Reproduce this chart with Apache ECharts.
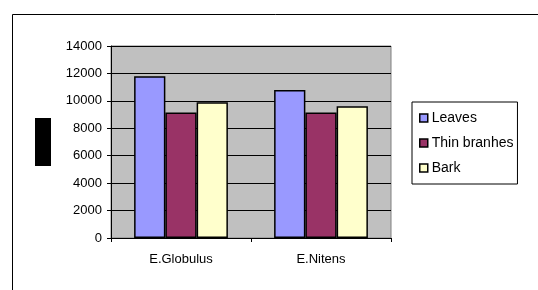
<!DOCTYPE html>
<html>
<head>
<meta charset="utf-8">
<title></title>
<script src="https://cdn.jsdelivr.net/npm/echarts@6/dist/echarts.min.js"></script>
<style>
  html, body { margin: 0; padding: 0; background: #fff; }
</style>
</head>
<body>
<div id="chart" style="width:538px; height:290px;"></div>
<script>
var categories = ['E.Globulus', 'E.Nitens'];
var seriesNames = ['Leaves', 'Thin branhes', 'Bark'];
var leaves = [11800, 10800];
var thinBranches = [9150, 9150];
var bark = [9900, 9600];
var yTicks = [0, 2000, 4000, 6000, 8000, 10000, 12000, 14000];

var colors = ['#9999ff', '#993366', '#ffffcc'];
var values = [leaves, thinBranches, bark];

var chart = echarts.init(document.getElementById('chart'));

var series = [];
for (var i = 0; i < seriesNames.length; i++) {
  series.push({
    name: seriesNames[i],
    type: 'bar',
    data: values[i],
    barGap: '0%',
    barCategoryGap: '33%',
    itemStyle: { color: colors[i], borderColor: '#000', borderWidth: 1.5 },
    emphasis: { disabled: true }
  });
}

chart.setOption({
  animation: false,
  textStyle: { fontFamily: 'Liberation Sans, Arial, sans-serif' },
  graphic: [
    { type: 'rect', left: 10, top: 12, shape: { width: 600, height: 300 },
      style: { fill: 'none', stroke: '#000', lineWidth: 1 }, silent: true },
    { type: 'rect', left: 35, top: 118, shape: { width: 16, height: 48 },
      style: { fill: '#000' }, silent: true }
  ],
  grid: {
    left: 111, top: 46, width: 280, height: 192,
    show: true, backgroundColor: '#c0c0c0', borderColor: '#808080', borderWidth: 1
  },
  legend: {
    orient: 'vertical',
    left: 412, top: 102,
    padding: [9, 4, 9, 7],
    itemGap: 11,
    itemWidth: 8, itemHeight: 8,
    icon: 'rect',
    borderColor: '#000', borderWidth: 1,
    backgroundColor: '#fff',
    textStyle: { fontSize: 14, color: '#000', padding: [0, 0, 0, -1] },
    itemStyle: { borderColor: '#000', borderWidth: 1.5 },
    data: seriesNames
  },
  xAxis: {
    type: 'category',
    data: categories,
    axisLine: { lineStyle: { color: '#000', width: 1 } },
    axisTick: { show: true, length: 4, lineStyle: { color: '#000' } },
    axisLabel: { color: '#000', fontSize: 13, margin: 15 }
  },
  yAxis: {
    type: 'value',
    min: yTicks[0], max: yTicks[yTicks.length - 1], interval: 2000,
    axisLine: { show: true, lineStyle: { color: '#000', width: 1 } },
    axisTick: { show: true, length: 4, lineStyle: { color: '#000' } },
    axisLabel: { color: '#000', fontSize: 13, margin: 9, formatter: function (v) { return String(v); } },
    splitLine: { show: true, lineStyle: { color: '#000', width: 1 } }
  },
  series: series
});
</script>
</body>
</html>
